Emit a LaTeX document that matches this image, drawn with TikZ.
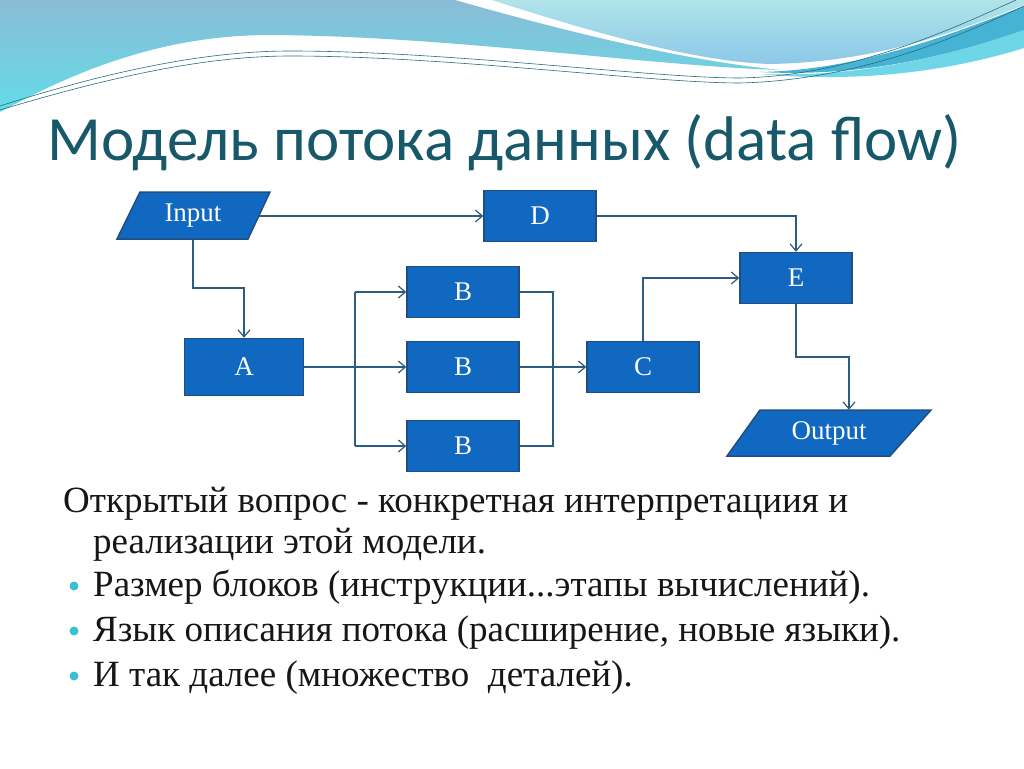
\documentclass[tikz,border=0pt]{standalone}
\usepackage{fontspec}
\setmainfont{Liberation Serif}
\newfontfamily\titlefont{Carlito}
\newfontfamily\bodyfont{Liberation Serif}
\newfontfamily\boxfont{Liberation Serif}
\usetikzlibrary{arrows.meta,shapes.geometric}
\definecolor{boxfill}{RGB}{16,104,192}
\definecolor{boxedge}{RGB}{32,78,128}
\definecolor{linec}{RGB}{42,92,132}
\definecolor{titlec}{RGB}{23,88,107}
\definecolor{bulletc}{RGB}{60,192,208}
\definecolor{textc}{RGB}{22,22,22}
\definecolor{wavetop}{RGB}{138,188,214}
\definecolor{wavebot}{RGB}{98,220,232}
\definecolor{lighttop}{RGB}{176,228,232}
\definecolor{lightbot}{RGB}{140,200,232}
\definecolor{darkband}{RGB}{70,178,212}
\definecolor{midband}{RGB}{110,214,230}
\definecolor{thinl}{RGB}{40,110,122}
\tikzset{
  blk/.style={rectangle, fill=boxfill, draw=boxedge, line width=1.5pt, text=white,
    font=\boxfont\fontsize{27}{30}\selectfont, minimum width=112pt, minimum height=51pt, inner sep=0pt},
  ghost/.style={rectangle, text=white, font=\boxfont\fontsize{27}{30}\selectfont, inner sep=0pt},
  para/.style={fill=boxfill, draw=boxedge, line width=1.5pt},
  arr/.style={draw=linec, line width=1.2pt, -{Straight Barb[length=7pt,width=12pt]}},
  ln/.style={draw=linec, line width=1.2pt},
  bul/.style={circle, fill=bulletc, minimum size=9pt, inner sep=0pt},
  body/.style={anchor=base west, inner sep=0pt, text=textc, font=\bodyfont\fontsize{37}{42}\selectfont},
}
\begin{document}
\begin{tikzpicture}[x=1pt,y=-1pt]
\useasboundingbox (0,0) rectangle (1024,768);
\fill[white] (0,0) rectangle (1024,768);
% top decoration
\shade[top color=wavetop, bottom color=wavebot]
  (0,0) -- (455,0) .. controls (560,30) and (680,60) .. (780,70)
  .. controls (650,66) and (450,36) .. (270,35)
  .. controls (150,35) and (60,80) .. (0,112) -- cycle;
\shade[top color=lighttop, bottom color=lightbot]
  (492,0) .. controls (600,35) and (700,62) .. (770,64)
  .. controls (880,62) and (960,30) .. (1024,5) -- (1024,0) -- cycle;
\fill[midband] (760,74) .. controls (870,78) and (960,52) .. (1024,30)
  -- (1024,48) .. controls (960,68) and (870,84) .. (760,74) -- cycle;
\fill[darkband] (760,72) .. controls (860,70) and (950,35) .. (1024,6)
  -- (1024,30) .. controls (960,52) and (870,78) .. (760,72) -- cycle;
\draw[thinl, line width=0.6pt] (0,106) .. controls (100,74) and (200,51) .. (290,51)
  .. controls (450,51) and (650,78) .. (740,78) .. controls (850,76) and (950,30) .. (1016,0);
\draw[thinl, line width=0.6pt] (0,110) .. controls (100,80) and (200,56) .. (290,56)
  .. controls (450,56) and (650,83) .. (740,83) .. controls (860,80) and (960,36) .. (1024,6);
% title
\node[anchor=base west, inner sep=0pt, text=titlec, font=\titlefont\fontsize{63}{70}\selectfont]
  (title) at (47,160) {Модель потока данных (data flow)};
% parallelograms
\draw[para] (140,192) -- (270,192) -- (248,239) -- (117,239) -- cycle;
\node[ghost, minimum width=132pt, minimum height=47pt] (in) at (193,216) {Input};
\draw[para] (760,410) -- (931,410) -- (890,456) -- (727,456) -- cycle;
\node[ghost, minimum width=167pt, minimum height=46pt] (out) at (829,433) {Output};
% blocks
\node[blk] (D) at (540,216) {D};
\node[blk, minimum width=119pt, minimum height=57pt] (A) at (244,367) {A};
\node[blk] (B1) at (463,292) {B};
\node[blk] (B2) at (463,367) {B};
\node[blk] (B3) at (463,446) {B};
\node[blk] (C) at (643,367) {C};
\node[blk] (E) at (796,278) {E};
\coordinate (s1) at (355,367);
\coordinate (s2) at (553,367);
\coordinate (j0) at (244,288);
\coordinate (j1) at (849,357);
% connectors
\draw[arr] (in.east) -- (D.west);
\draw[arr] (in.south) |- (j0) -- (A.north);
\draw[arr] (A.east) -- (B2.west);
\draw[ln] (B1.west -| s1) -- (B3.west -| s1);
\draw[arr] (B1.west -| s1) -- (B1.west);
\draw[arr] (B3.west -| s1) -- (B3.west);
\draw[ln] (B1.east) -- (B1.east -| s2) -- (B3.east -| s2) -- (B3.east);
\draw[arr] (B2.east) -- (C.west);
\draw[arr] (C.north) |- (E.west);
\draw[arr] (D.east) -| (E.north);
\draw[arr] (E.south) |- (j1) -- (j1 |- out.north);
% body text
\node[body] (t1) at (63,512) {Открытый вопрос - конкретная интерпретациия и};
\node[body] (t2) at (93,553) {реализации этой модели.};
\node[body] (t3) at (93,596) {Размер блоков (инструкции...этапы вычислений).};
\node[body] (t4) at (93,641) {Язык описания потока (расширение, новые языки).};
\node[body] (t5) at (93,686) {И так далее (множество\ \ деталей).};
\node[bul] (b1) at (74,586) {};
\node[bul] (b2) at (74,631) {};
\node[bul] (b3) at (74,676) {};
\end{tikzpicture}
\end{document}
